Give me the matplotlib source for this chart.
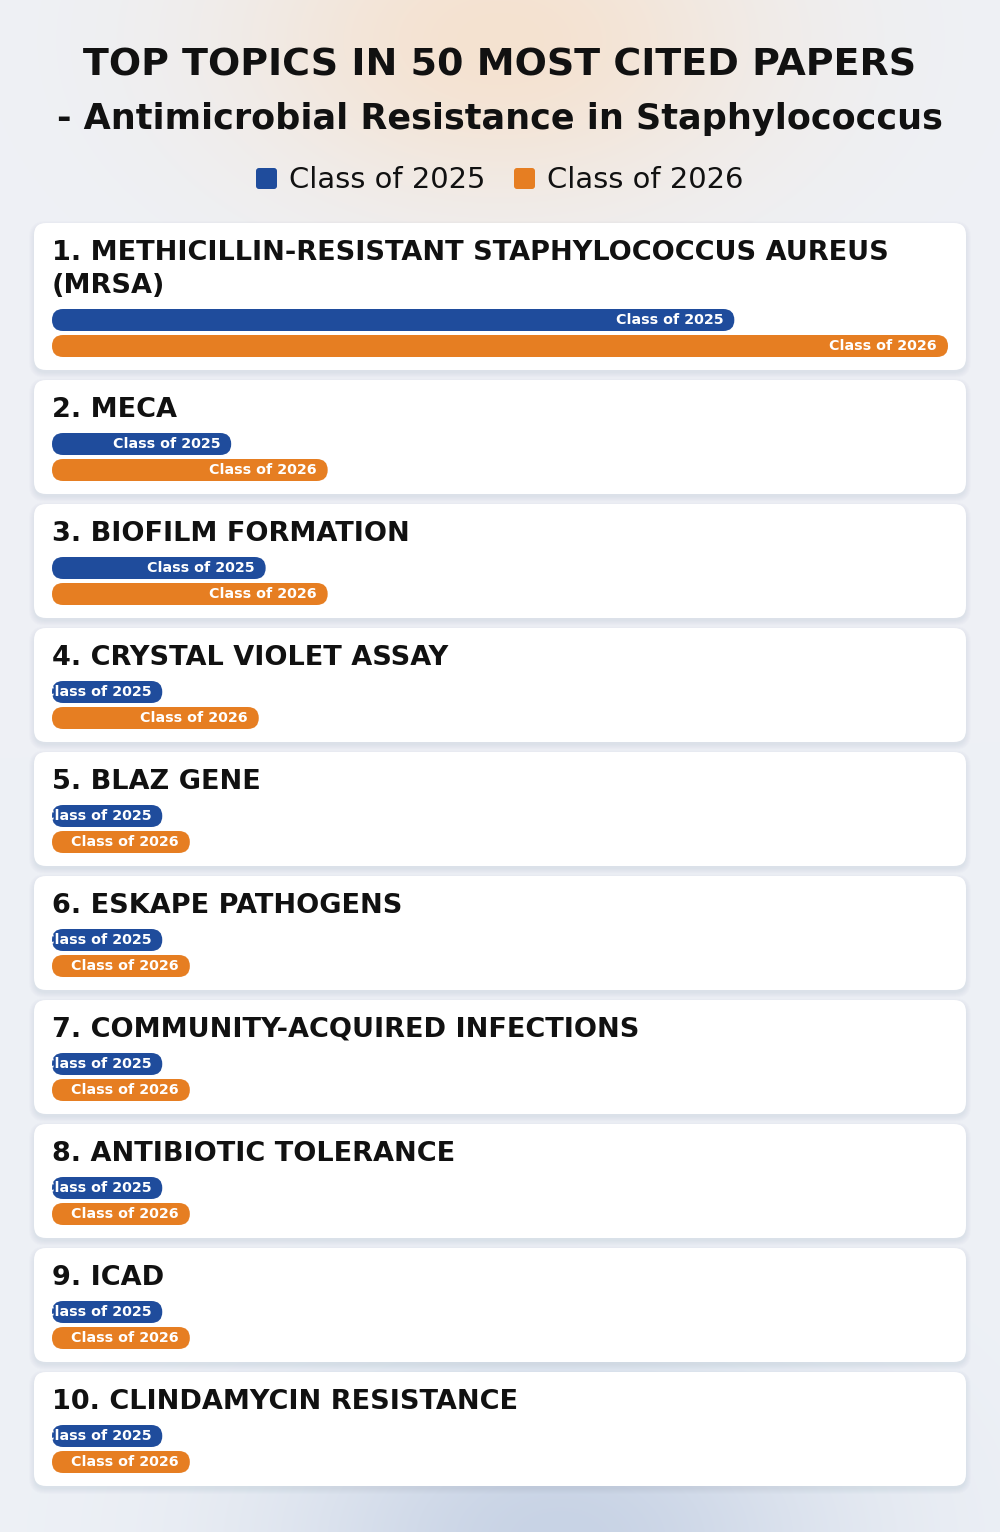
import numpy as np
import matplotlib.pyplot as plt
from matplotlib.patches import FancyBboxPatch

topics = [
    "1. METHICILLIN-RESISTANT STAPHYLOCOCCUS AUREUS\n(MRSA)",
    "2. MECA",
    "3. BIOFILM FORMATION",
    "4. CRYSTAL VIOLET ASSAY",
    "5. BLAZ GENE",
    "6. ESKAPE PATHOGENS",
    "7. COMMUNITY-ACQUIRED INFECTIONS",
    "8. ANTIBIOTIC TOLERANCE",
    "9. ICAD",
    "10. CLINDAMYCIN RESISTANCE",
]
class_2025 = [9.9, 2.6, 3.1, 1.6, 1.6, 1.6, 1.6, 1.6, 1.6, 1.6]
class_2026 = [13, 4, 4, 3, 2, 2, 2, 2, 2, 2]
series = ["Class of 2025", "Class of 2026"]
colors = ["#1f4c9c", "#e67e22"]

W, H = 1000, 1532
PT = 0.72  # px -> pt at dpi 100

fig = plt.figure(figsize=(W / 100, H / 100), dpi=100)
ax = fig.add_axes([0, 0, 1, 1])

# soft background: grey-blue base, peach glow on top, blue glow at bottom
yy, xx = np.mgrid[0:H, 0:W].astype(float)
base = np.array([238, 241, 246]) / 255
peach = np.array([245, 226, 208]) / 255
blue = np.array([200, 211, 229]) / 255
g1 = np.exp(-(((xx - 500) / 270) ** 2 + ((yy - 40) / 170) ** 2))[..., None]
g2 = np.exp(-(((xx - 560) / 280) ** 2 + ((yy - 1540) / 180) ** 2))[..., None]
bg = base * (1 - g1) + peach * g1
bg = bg * (1 - g2) + blue * g2
ax.imshow(bg, extent=(0, W, H, 0), zorder=0)
ax.set_xlim(0, W)
ax.set_ylim(H, 0)
ax.set_aspect("auto")
ax.axis("off")

font = "DejaVu Sans"
ax.text(W / 2, 75, "TOP TOPICS IN 50 MOST CITED PAPERS", ha="center", va="baseline",
        fontsize=38 * PT, fontweight="bold", color="#111111", family=font)
ax.text(W / 2, 129, "- Antimicrobial Resistance in Staphylococcus", ha="center", va="baseline",
        fontsize=35 * PT, fontweight="bold", color="#111111", family=font)

# legend
leg_x = [256, 514]
for lx, name, c in zip(leg_x, series, colors):
    ax.add_patch(FancyBboxPatch((lx, 168), 21, 21, boxstyle="round,pad=0,rounding_size=3",
                                fc=c, ec="none", zorder=3))
    ax.text(lx + 33, 188, name, ha="left", va="baseline", fontsize=29 * PT,
            color="#111111", family=font)

left, right = 34, 966
bar_x0, bar_span = 52, 896
bar_h = 22
scale = bar_span / max(max(class_2025), max(class_2026))

top = 223
for topic, v25, v26 in zip(topics, class_2025, class_2026):
    lines = topic.split("\n")
    extra = 33 * (len(lines) - 1)
    h = 114 + extra
    # shadow
    for k in range(6):
        ax.add_patch(FancyBboxPatch((left - k, top - k + 3), right - left + 2 * k, h + 2 * k,
                                    boxstyle="round,pad=0,rounding_size=%d" % (12 + k),
                                    fc="#5a6a8a", ec="none", alpha=0.014, zorder=1))
    ax.add_patch(FancyBboxPatch((left, top), right - left, h,
                                boxstyle="round,pad=0,rounding_size=12",
                                fc="white", ec="none", zorder=2))
    for i, line in enumerate(lines):
        ax.text(52, top + 37 + 33 * i, line, ha="left", va="baseline", fontsize=27.1 * PT,
                fontweight="bold", color="#111111", family=font, zorder=3)
    for j, (v, name, c) in enumerate(zip([v25, v26], series, colors)):
        yc = top + 64 + extra + 26 * j
        wbar = v * scale
        bar = FancyBboxPatch((bar_x0, yc - bar_h / 2), wbar, bar_h,
                             boxstyle="round,pad=0,rounding_size=%g" % (bar_h / 2),
                             fc=c, ec="none", zorder=3)
        ax.add_patch(bar)
        t = ax.text(bar_x0 + wbar - 11, yc + 0.5, name, ha="right", va="center",
                    fontsize=14.2 * PT, fontweight="bold", color="white", family=font, zorder=4)
        t.set_clip_path(bar)
    top += h + 10

fig.savefig("out.png", dpi=100)
